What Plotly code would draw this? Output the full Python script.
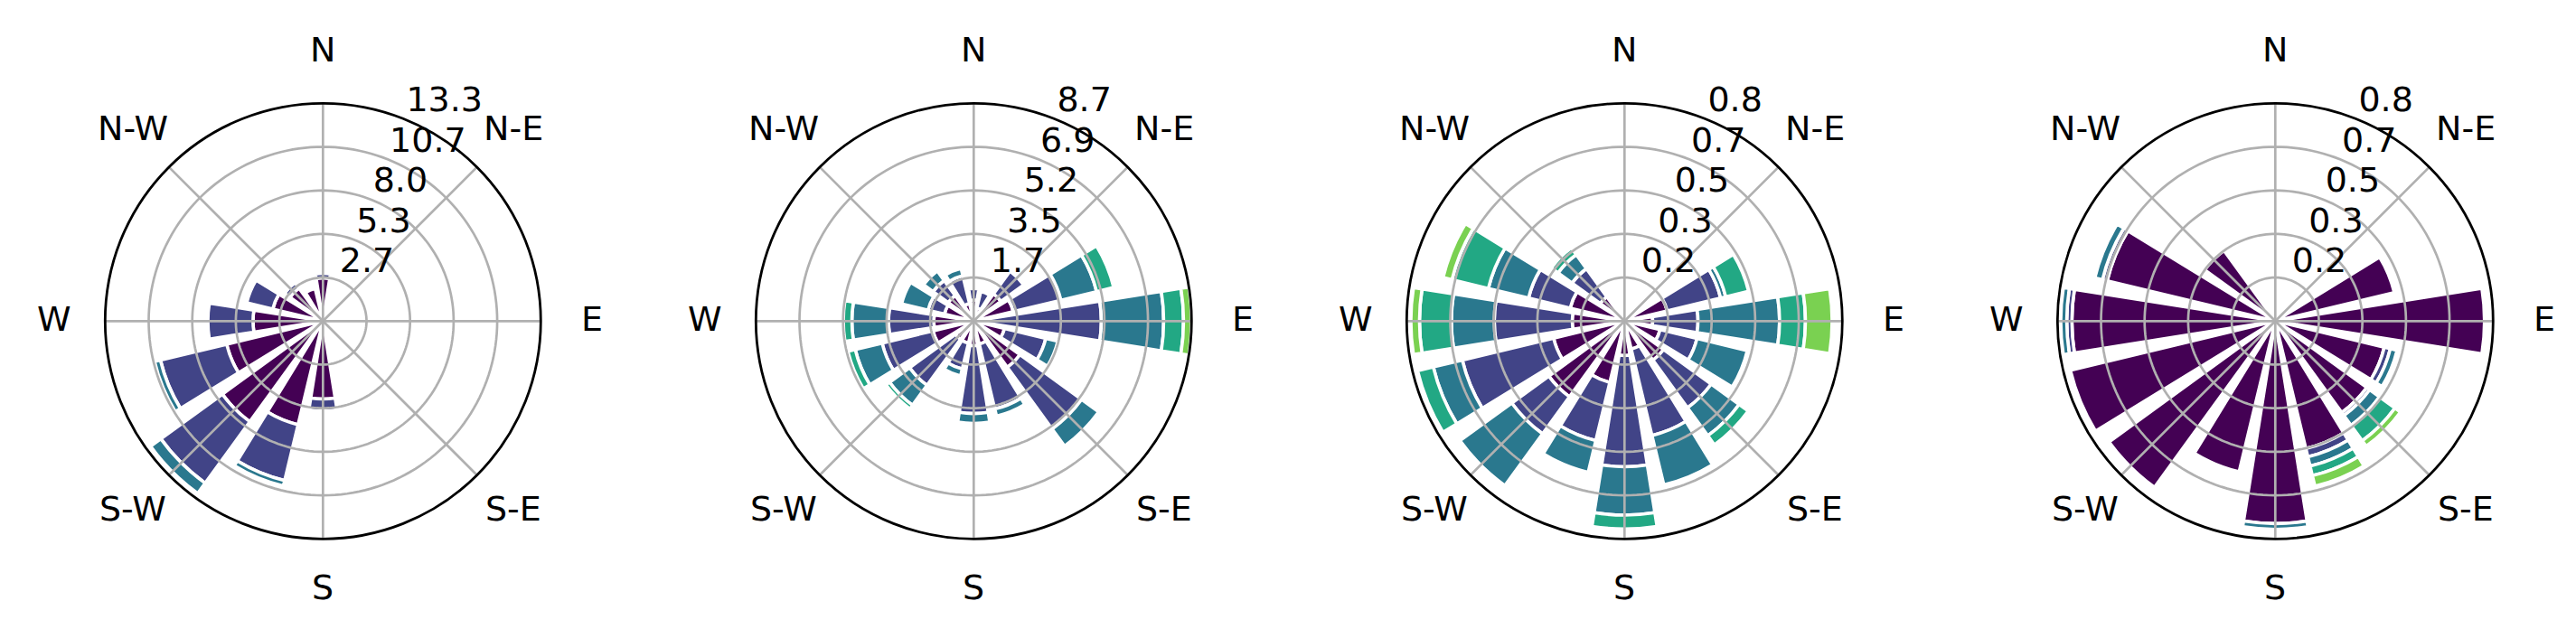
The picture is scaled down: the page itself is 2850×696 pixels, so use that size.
import math
import plotly.graph_objects as go

W, H = 2850, 696

# ---------------- data ----------------
directions = ["N", "NNE", "NE", "ENE", "E", "ESE", "SE", "SSE",
              "S", "SSW", "SW", "WSW", "W", "WNW", "NW", "NNW"]
bearings = [0.0, 22.5, 45.0, 67.5, 90.0, 112.5, 135.0, 157.5,
            180.0, 202.5, 225.0, 247.5, 270.0, 292.5, 315.0, 337.5]
bin_colors = ["#440154", "#414487", "#2a788e", "#22a884", "#7ad151", "#fde725"]

compass_vals = [0, 45, 90, 135, 180, 225, 270, 315]
compass_text = ["N", "N-E", "E", "S-E", "S", "S-W", "W", "N-W"]

# rose 1
p1_rmax = 13.33
p1_ticks = ["2.7", "5.3", "8.0", "10.7", "13.3"]
p1_b0 = [2.64, 0, 0, 0, 0, 0, 0, 0, 4.77, 6.52, 7.61, 6.06, 4.28, 3.16, 2.49, 2.05]
p1_b1 = [0.28, 0, 0, 0, 0, 0, 0, 0, 0.73, 3.51, 4.65, 4.17, 2.76, 1.64, 0.41, 0]
p1_b2 = [0, 0, 0, 0, 0, 0, 0, 0, 0, 0.35, 0.78, 0.37, 0, 0, 0, 0]

# rose 2
p2_rmax = 8.67
p2_ticks = ["1.7", "3.5", "5.2", "6.9", "8.7"]
p2_b0 = [0.84, 0.54, 1.34, 1.62, 0.30, 1.26, 2.28, 0.94, 0.98, 0.90, 0.90, 1.67, 1.59, 1.20, 1.26, 0.72]
p2_b1 = [0.46, 0.67, 1.12, 1.95, 4.78, 1.69, 3.03, 2.66, 2.70, 1.06, 2.26, 2.08, 1.80, 0.67, 0.74, 1.14]
p2_b2 = [0, 0, 0, 1.46, 2.48, 0.49, 0.84, 0.29, 0.39, 0.29, 0.98, 1.10, 1.46, 1.08, 0.47, 0.30]
p2_b3 = [0, 0, 0, 0.70, 0.79, 0, 0, 0, 0, 0, 0.18, 0.30, 0.34, 0, 0, 0]
p2_b4 = [0, 0, 0, 0, 0.32, 0, 0, 0, 0, 0, 0, 0, 0, 0, 0, 0]

# rose 3
p3_rmax = 0.833
p3_ticks = ["0.2", "0.3", "0.5", "0.7", "0.8"]
p3_b0 = [0, 0, 0, 0.168, 0.108, 0.140, 0.185, 0.110, 0.132, 0.241, 0.358, 0.279, 0.200, 0.2135, 0.115, 0]
p3_b1 = [0, 0, 0, 0.210, 0.173, 0.145, 0.225, 0.340, 0.425, 0.229, 0.175, 0.359, 0.298, 0.164, 0.133, 0]
p3_b2 = [0, 0, 0, 0.020, 0.312, 0.198, 0.132, 0.194, 0.185, 0.125, 0.245, 0.114, 0.164, 0.158, 0.066, 0]
p3_b3 = [0, 0, 0, 0.090, 0.099, 0, 0.043, 0, 0.053, 0, 0, 0.062, 0.122, 0.143, 0.032, 0]
p3_b4 = [0, 0, 0, 0, 0.102, 0, 0, 0, 0, 0, 0, 0, 0.033, 0.035, 0, 0]

# rose 4
p4_rmax = 0.833
p4_ticks = ["0.2", "0.3", "0.5", "0.7", "0.8"]
p4_b0 = [0, 0, 0, 0.468, 0.800, 0.4287, 0.4327, 0.5014, 0.7743, 0.593, 0.786, 0.806, 0.7778, 0.661, 0.3335, 0]
p4_b1 = [0, 0, 0, 0, 0, 0.0237, 0.0138, 0.0323, 0, 0, 0, 0, 0.0196, 0.0185, 0, 0]
p4_b2 = [0, 0, 0, 0, 0, 0.0265, 0.0467, 0.0369, 0.022, 0, 0, 0, 0.023, 0.030, 0, 0]
p4_b3 = [0, 0, 0, 0, 0, 0, 0.0727, 0.0375, 0, 0, 0, 0, 0, 0, 0, 0]
p4_b4 = [0, 0, 0, 0, 0, 0, 0.0259, 0.0415, 0, 0, 0, 0, 0, 0, 0, 0]

roses = [
    ([p1_b0, p1_b1, p1_b2], p1_rmax, p1_ticks),
    ([p2_b0, p2_b1, p2_b2, p2_b3, p2_b4], p2_rmax, p2_ticks),
    ([p3_b0, p3_b1, p3_b2, p3_b3, p3_b4], p3_rmax, p3_ticks),
    ([p4_b0, p4_b1, p4_b2, p4_b3, p4_b4], p4_rmax, p4_ticks),
]

# ---------------- styling / layout ----------------
FONT = "DejaVu Sans"
FS = 38
GRID = "#b0b0b0"
GRID_W = 2.7
EDGE_W = 3.6
BAR_W = 18.0          # 0.8 of a 22.5 deg sector
LABEL_BEARING = 22.5

centers_x = [349.3, 1069.3, 1789.3, 2509.3]
cy = 347.3
R = 241.0
LABEL_DIST = 297.5    # px from centre to compass label centre
LABEL_LIFT = 2.5      # px

fig = go.Figure()
layout_updates = {}
annotations = []

circle_theta = [float(t) for t in range(0, 361, 2)]

for i, (bins, rmax, ticks) in enumerate(roses):
    sub = "polar" if i == 0 else f"polar{i + 1}"

    for b, vals in enumerate(bins):
        fig.add_trace(go.Barpolar(
            r=vals, theta=bearings, width=[BAR_W] * len(bearings),
            marker=dict(color=bin_colors[b], line=dict(color="white", width=EDGE_W)),
            subplot=sub, hoverinfo="skip", showlegend=False,
        ))

    tickvals = [rmax * k / 5 for k in range(1, 6)]

    # grid circles drawn above the bars (as in the original)
    for tv in tickvals[:-1]:
        fig.add_trace(go.Scatterpolar(
            r=[tv] * len(circle_theta), theta=circle_theta, mode="lines",
            line=dict(color=GRID, width=GRID_W), subplot=sub,
            hoverinfo="skip", showlegend=False,
        ))
    # grid spokes
    sr, st = [], []
    for a in compass_vals:
        sr += [0, rmax, None]
        st += [a, a, None]
    fig.add_trace(go.Scatterpolar(
        r=sr, theta=st, mode="lines", line=dict(color=GRID, width=GRID_W),
        subplot=sub, hoverinfo="skip", showlegend=False,
    ))
    # radial tick labels (kept just inside the range so none is dropped)
    fig.add_trace(go.Scatterpolar(
        r=[min(tv, rmax * 0.999) for tv in tickvals], theta=[LABEL_BEARING] * 5,
        mode="text", text=ticks, textposition="top right", cliponaxis=False,
        textfont=dict(family=FONT, size=FS, color="black"),
        subplot=sub, hoverinfo="skip", showlegend=False,
    ))

    cx = centers_x[i]
    layout_updates[sub] = dict(
        domain=dict(x=[(cx - R) / W, (cx + R) / W],
                    y=[(H - cy - R) / H, (H - cy + R) / H]),
        bgcolor="white",
        barmode="stack",
        radialaxis=dict(range=[0, rmax], showgrid=False, showline=False,
                        showticklabels=False, ticks=""),
        angularaxis=dict(rotation=90, direction="clockwise",
                         tickmode="array", tickvals=compass_vals,
                         showgrid=False, showline=True, linecolor="black", linewidth=2.8,
                         ticks="", showticklabels=False),
    )

    # compass labels around the rose
    for a, txt in zip(compass_vals, compass_text):
        rad = math.radians(a)
        px = cx + LABEL_DIST * math.sin(rad)
        py = cy - LABEL_LIFT - LABEL_DIST * math.cos(rad)
        annotations.append(dict(
            x=px / W, y=1 - py / H, xref="paper", yref="paper",
            text=txt, showarrow=False, xanchor="center", yanchor="middle",
            font=dict(family=FONT, size=FS, color="black"),
        ))

fig.update_layout(
    width=W, height=H,
    margin=dict(l=0, r=0, t=0, b=0),
    paper_bgcolor="white", plot_bgcolor="white",
    showlegend=False,
    font=dict(family=FONT, size=FS, color="black"),
    annotations=annotations,
    **layout_updates,
)

fig.write_html("out.html")
